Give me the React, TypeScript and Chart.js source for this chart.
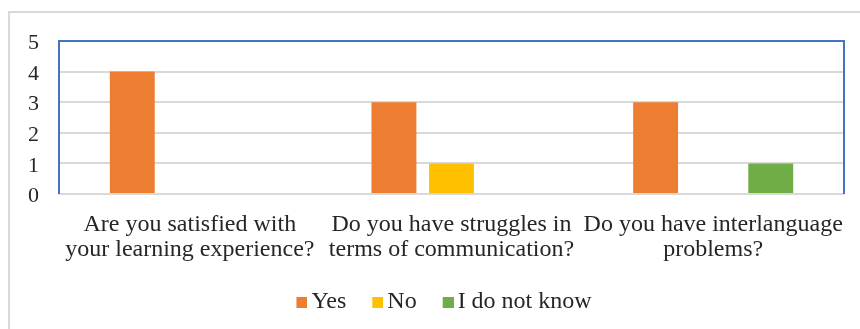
import React, { useEffect, useRef } from "react";
import { Chart, registerables } from "chart.js";

Chart.register(...registerables);

const categories: string[][] = [
  ["Are you satisfied with", "your learning experience?"],
  ["Do you have struggles in", "terms of communication?"],
  ["Do you have interlanguage", "problems?"],
];
const seriesNames = ["Yes", "No", "I do not know"];
const yesValues = [4, 3, 3];
const noValues = [0, 1, 0];
const dontKnowValues = [0, 0, 1];
const seriesColors = ["#ED7D31", "#FFC000", "#70AD47"];
const yMin = 0;
const yMax = 5;
const yStep = 1;

const FONT = "'Liberation Serif', 'Times New Roman', serif";
const TEXT = "#262626";

function legendSquare(color: string): HTMLCanvasElement {
  // image wider than the square; the square sits on its right side so the gap to the text is small
  const c = document.createElement("canvas");
  c.width = 17;
  c.height = 11;
  const g = c.getContext("2d")!;
  g.fillStyle = color;
  g.fillRect(6, 0, 11, 11);
  return c;
}

const framePlugin = {
  id: "frame",
  beforeDraw(chart: any) {
    const ctx = chart.ctx;
    ctx.save();
    ctx.fillStyle = "#ffffff";
    ctx.fillRect(0, 0, chart.width, chart.height);
    ctx.strokeStyle = "#D9D9D9";
    ctx.lineWidth = 2;
    ctx.beginPath();
    ctx.moveTo(9, chart.height);
    ctx.lineTo(9, 12);
    ctx.lineTo(chart.width, 12);
    ctx.stroke();
    ctx.restore();
  },
  afterDraw(chart: any) {
    const { left, right, top, bottom } = chart.chartArea;
    const ctx = chart.ctx;
    ctx.save();
    ctx.strokeStyle = "#4472C4";
    ctx.lineWidth = 2;
    ctx.beginPath();
    ctx.moveTo(left, bottom);
    ctx.lineTo(left, top);
    ctx.lineTo(right, top);
    ctx.lineTo(right, bottom);
    ctx.stroke();
    ctx.restore();
  },
};

export default function App() {
  const ref = useRef<HTMLCanvasElement | null>(null);
  useEffect(() => {
    if (!ref.current) return;
    const squares = seriesColors.map(legendSquare);
    const chart = new Chart(ref.current, {
      type: "bar",
      data: {
        labels: categories,
        datasets: [
          { label: seriesNames[0], data: yesValues, backgroundColor: seriesColors[0] },
          { label: seriesNames[1], data: noValues, backgroundColor: seriesColors[1] },
          { label: seriesNames[2], data: dontKnowValues, backgroundColor: seriesColors[2] },
        ],
      },
      options: {
        responsive: true,
        maintainAspectRatio: false,
        animation: false,
        layout: { padding: { left: 46, right: 16, top: 41, bottom: 5 } },
        datasets: {
          bar: { categoryPercentage: 0.66, barPercentage: 0.78 },
        } as any,
        plugins: {
          tooltip: { enabled: false },
          legend: {
            position: "bottom",
            labels: {
              usePointStyle: true,
              boxWidth: 1,
              boxHeight: 11,
              padding: 28,
              color: TEXT,
              font: { family: FONT, size: 24 },
              generateLabels: (ch: any) =>
                ch.data.datasets.map((ds: any, i: number) => ({
                  text: ds.label,
                  fillStyle: ds.backgroundColor,
                  strokeStyle: ds.backgroundColor,
                  lineWidth: 0,
                  pointStyle: squares[i],
                  hidden: false,
                  datasetIndex: i,
                  fontColor: TEXT,
                })),
            },
          },
        },
        scales: {
          x: {
            grid: { display: false },
            border: { display: false },
            ticks: {
              color: TEXT,
              font: { family: FONT, size: 24, lineHeight: 1.042 },
              maxRotation: 0,
              minRotation: 0,
              autoSkip: false,
              padding: 10,
            },
            afterFit: (s: any) => {
              s.height = 68;
            },
          },
          y: {
            min: yMin,
            max: yMax,
            ticks: {
              stepSize: yStep,
              color: TEXT,
              font: { family: FONT, size: 22, lineHeight: 0.227 },
              mirror: true,
              padding: -31,
              callback: (v: any) => ["", String(v)],
            },
            grid: { color: "#D9D9D9", lineWidth: 2, drawTicks: false },
            border: { display: false },
            afterFit: (s: any) => {
              s.width = 13;
            },
          },
        },
      },
      plugins: [framePlugin],
    });
    return () => chart.destroy();
  }, []);
  return (
    <div style={{ position: "absolute", left: 0, top: 0, width: 860, height: 329 }}>
      <canvas ref={ref} />
    </div>
  );
}
